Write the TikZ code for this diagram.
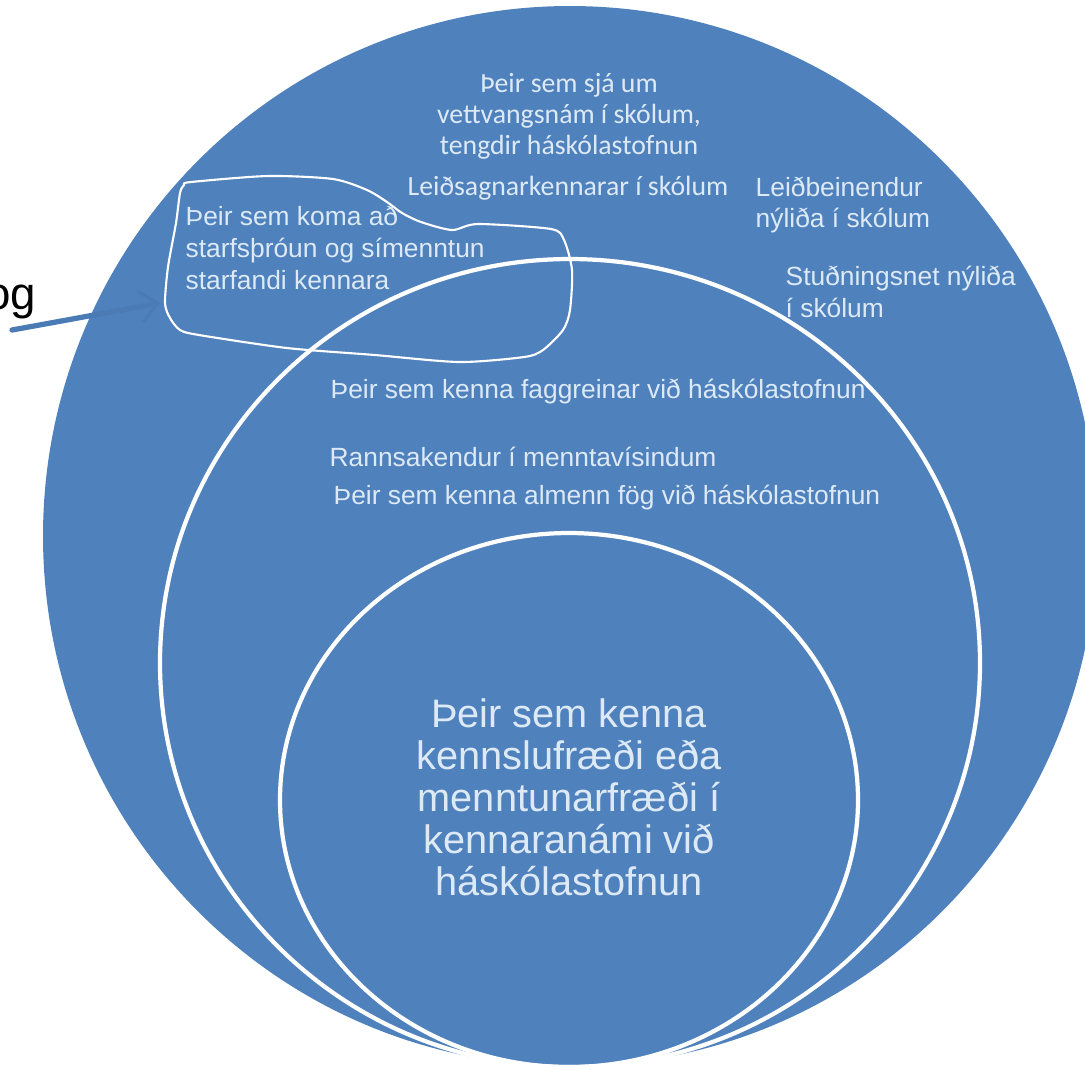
\documentclass[tikz,border=0pt]{standalone}
\usepackage{fontspec}
\setmainfont{Liberation Sans}
\newfontfamily\calfont{Carlito}
\usetikzlibrary{arrows.meta}
\definecolor{vennblue}{HTML}{4F81BD}
\definecolor{venntext}{HTML}{DDEAF6}

\begin{document}
\begin{tikzpicture}[x=0.1mm,y=-0.1mm,
	txt/.style={text=venntext,inner sep=0pt,font=\fontsize{7.5}{9}\selectfont},
	caltxt/.style={txt,align=center,font=\calfont\fontsize{7.9}{8.8}\selectfont},
	bigtxt/.style={txt,align=center,font=\fontsize{11.3}{11.95}\selectfont},
	ring/.style={draw=white,line width=1.2pt},
	pointer/.style={draw=vennblue!95!black,line width=1.5pt,line cap=round,-{Straight Barb[length=5pt,width=9pt,line width=0.9pt]}}]
	\useasboundingbox (0,0) rectangle (1085,1069);
	\clip (0,0) rectangle (1085,1069);
	\fill[vennblue] (570,536) ellipse [x radius=5.27cm,y radius=5.30cm];
	\draw[ring] (570,663) ellipse [x radius=4.10cm,y radius=4.04cm];
	\draw[ring] (569,800) ellipse [x radius=2.89cm,y radius=2.67cm];
	\draw[white,line width=0.6pt] plot[smooth cycle,tension=0.45] coordinates {(184,185) (191,182) (268,176) (333,179) (367,190) (387,202) (402,213) (421,222) (452,230) (478,224) (551,229) (564,240) (572,270) (570,310) (563,330) (543,350) (524,357) (459,362) (375,355) (287,348) (199,335) (180,330) (170,318) (165,303) (168,267) (176,223) (180,193)};
	\node[caltxt] (fieldwork) at (569,116) {Þeir sem sjá um\\vettvangsnám í skólum,\\tengdir háskólastofnun};
	\node[caltxt,anchor=west] (mentors) at (407,188) {Leiðsagnarkennarar í skólum};
	\node[txt,anchor=west,align=left] (induction) at (755,205) {Leiðbeinendur\\nýliða í skólum};
	\node[txt,anchor=west,align=left] (support) at (785,292) {Stuðningsnet nýliða\\í skólum};
	\node[txt,anchor=west,align=left] (cpd) at (185,248) {Þeir sem koma að\\starfsþróun og símenntun\\starfandi kennara};
	\node[txt,anchor=west] (subject) at (330,391) {Þeir sem kenna faggreinar við háskólastofnun};
	\node[txt,anchor=west] (research) at (329,457) {Rannsakendur í menntavísindum};
	\node[txt,anchor=west] (general) at (333,497) {Þeir sem kenna almenn fög við háskólastofnun};
	\node[bigtxt] (core) at (569,797) {Þeir sem kenna\\kennslufræði eða\\menntunarfræði í\\kennaranámi við\\háskólastofnun};
	\node[anchor=east,inner sep=0pt,font=\fontsize{13}{13}\selectfont] (og) at (37,302) {og};
	\coordinate (tail) at (12,330);
	\coordinate (looptip) at (160,303);
	\draw[pointer] (tail) -- (looptip);
\end{tikzpicture}
\end{document}
